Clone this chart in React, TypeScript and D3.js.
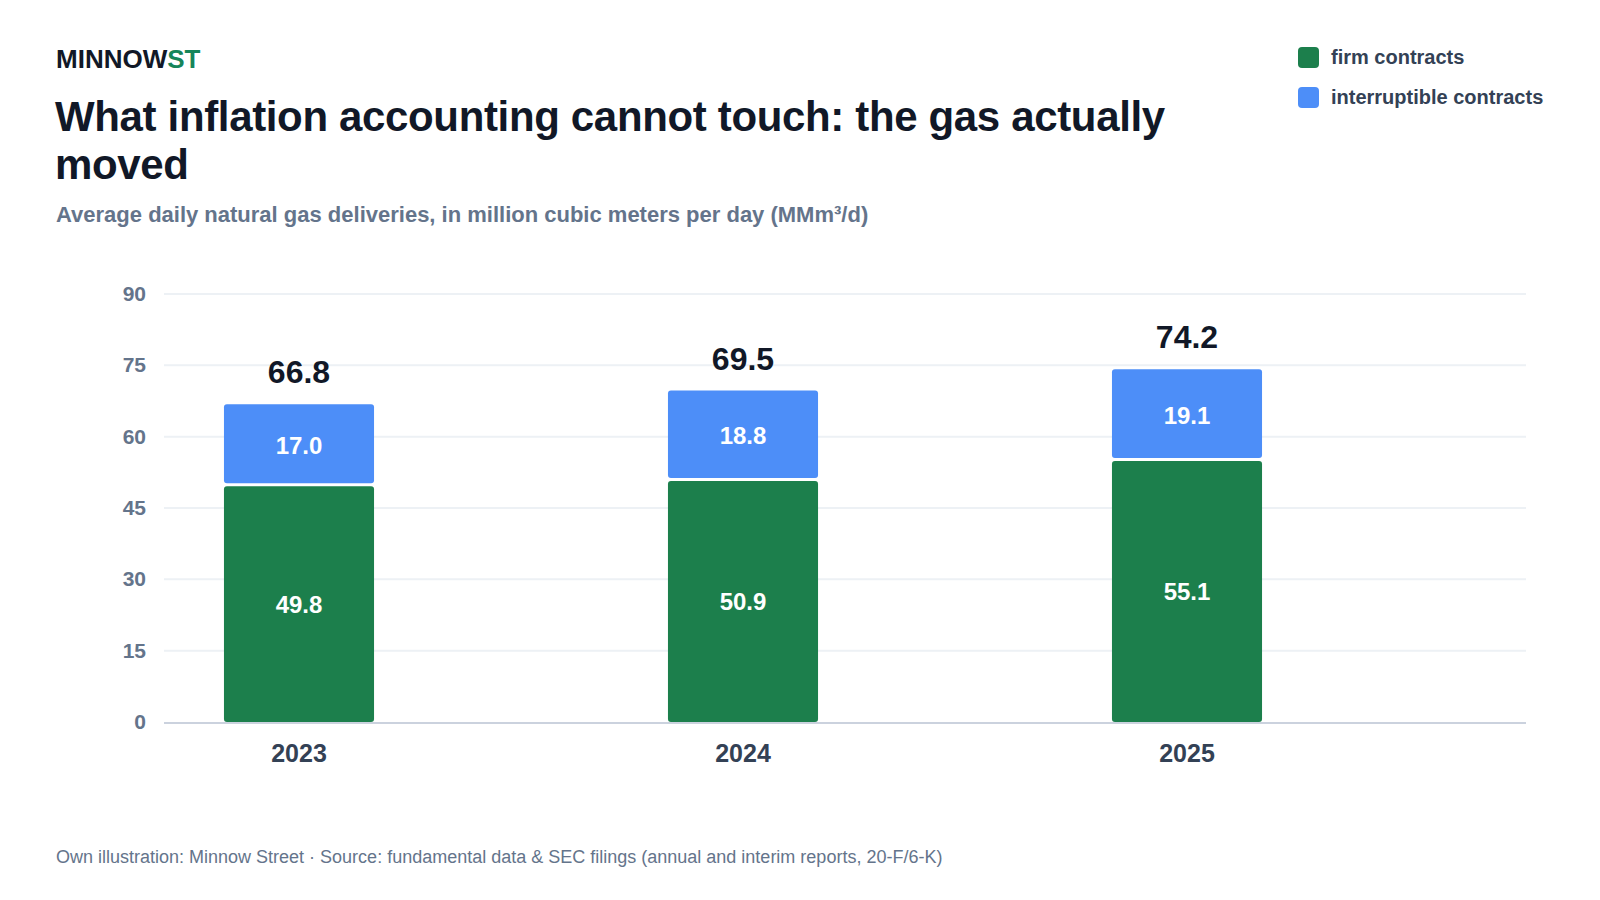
import { useEffect, useRef } from "react"
import * as d3 from "d3"

// Data
const years = ["2023", "2024", "2025"]
const firmValues = [49.8, 50.9, 55.1]
const interruptibleValues = [17.0, 18.8, 19.1]
const totalValues = [66.8, 69.5, 74.2]
const yTicks = [0, 15, 30, 45, 60, 75, 90]
const seriesNames = ["firm contracts", "interruptible contracts"]

const GREEN = "#1c7f4c"
const BLUE = "#4d8ef8"

export default function App() {
  const svgRef = useRef<SVGSVGElement>(null)

  useEffect(() => {
    if (!svgRef.current) return
    const svg = d3.select(svgRef.current)
    svg.selectAll("*").remove()

    const sans = "'Liberation Sans', Arial, sans-serif"

    // Header
    const brand = svg
      .append("text")
      .attr("x", 56)
      .attr("y", 68)
      .attr("font-family", sans)
      .attr("font-weight", 700)
      .attr("font-size", 26)
      .attr("fill", "#111827")
    brand.append("tspan").text("MINNOW")
    brand.append("tspan").attr("fill", "#16855a").text("ST")

    const title = svg
      .append("text")
      .attr("font-family", sans)
      .attr("font-weight", 700)
      .attr("font-size", 42)
      .attr("fill", "#111827")
      .attr("letter-spacing", -0.35)
    title.append("tspan").attr("x", 55).attr("y", 131).text("What inflation accounting cannot touch: the gas actually")
    title.append("tspan").attr("x", 55).attr("y", 179).text("moved")

    svg
      .append("text")
      .attr("x", 56)
      .attr("y", 222)
      .attr("font-family", sans)
      .attr("font-weight", 700)
      .attr("font-size", 22)
      .attr("fill", "#64748b")
      .text("Average daily natural gas deliveries, in million cubic meters per day (MMm³/d)")

    // Legend
    const legend = svg.append("g").attr("transform", "translate(1298,47)")
    seriesNames.forEach((name, i) => {
      const g = legend.append("g").attr("transform", `translate(0,${i * 40})`)
      g.append("rect")
        .attr("width", 21)
        .attr("height", 21)
        .attr("rx", 4)
        .attr("fill", i === 0 ? GREEN : BLUE)
      g.append("text")
        .attr("x", 33)
        .attr("y", 17)
        .attr("font-family", sans)
        .attr("font-weight", 700)
        .attr("font-size", 20)
        .attr("fill", "#334155")
        .text(name)
    })

    // Scales
    const plotLeft = 164
    const plotRight = 1526
    const y = d3.scaleLinear().domain([0, 90]).range([722, 294])
    const x = d3
      .scaleBand<string>()
      .domain(years)
      .range([77, 1409])
      .paddingInner(0.662)
      .paddingOuter(0.331)

    // Gridlines
    svg
      .append("g")
      .selectAll("line")
      .data(yTicks.filter((t) => t > 0))
      .enter()
      .append("line")
      .attr("x1", plotLeft)
      .attr("x2", plotRight)
      .attr("y1", (d) => y(d))
      .attr("y2", (d) => y(d))
      .attr("stroke", "#edf1f5")
      .attr("stroke-width", 2)

    // Y tick labels
    svg
      .append("g")
      .selectAll("text")
      .data(yTicks)
      .enter()
      .append("text")
      .attr("x", 146)
      .attr("y", (d) => y(d) + 7)
      .attr("text-anchor", "end")
      .attr("font-family", sans)
      .attr("font-weight", 700)
      .attr("font-size", 21)
      .attr("fill", "#64748b")
      .text((d) => d)

    const bw = x.bandwidth()

    // Firm segments
    svg
      .append("g")
      .selectAll("rect")
      .data(years)
      .enter()
      .append("rect")
      .attr("x", (d) => x(d)!)
      .attr("y", (_, i) => y(firmValues[i]) + 1)
      .attr("width", bw)
      .attr("height", (_, i) => y(0) - y(firmValues[i]) - 1)
      .attr("rx", 3)
      .attr("fill", GREEN)

    // Interruptible segments
    svg
      .append("g")
      .selectAll("rect")
      .data(years)
      .enter()
      .append("rect")
      .attr("x", (d) => x(d)!)
      .attr("y", (_, i) => y(firmValues[i] + interruptibleValues[i]))
      .attr("width", bw)
      .attr("height", (_, i) => y(firmValues[i]) - y(firmValues[i] + interruptibleValues[i]) - 2)
      .attr("rx", 3)
      .attr("fill", BLUE)

    // Baseline
    svg
      .append("line")
      .attr("x1", plotLeft)
      .attr("x2", plotRight)
      .attr("y1", y(0) + 1)
      .attr("y2", y(0) + 1)
      .attr("stroke", "#cbd2de")
      .attr("stroke-width", 2)

    // Segment labels
    years.forEach((yr, i) => {
      const cx = x(yr)! + bw / 2
      svg
        .append("text")
        .attr("x", cx)
        .attr("y", (y(0) + y(firmValues[i])) / 2 + 9)
        .attr("text-anchor", "middle")
        .attr("font-family", sans)
        .attr("font-weight", 700)
        .attr("font-size", 24)
        .attr("fill", "#ffffff")
        .text(firmValues[i].toFixed(1))
      svg
        .append("text")
        .attr("x", cx)
        .attr("y", (y(firmValues[i]) + y(firmValues[i] + interruptibleValues[i])) / 2 + 9)
        .attr("text-anchor", "middle")
        .attr("font-family", sans)
        .attr("font-weight", 700)
        .attr("font-size", 24)
        .attr("fill", "#ffffff")
        .text(interruptibleValues[i].toFixed(1))
      svg
        .append("text")
        .attr("x", cx)
        .attr("y", y(totalValues[i]) - 21)
        .attr("text-anchor", "middle")
        .attr("font-family", sans)
        .attr("font-weight", 700)
        .attr("font-size", 32)
        .attr("fill", "#111827")
        .text(totalValues[i].toFixed(1))
      svg
        .append("text")
        .attr("x", cx)
        .attr("y", 762)
        .attr("text-anchor", "middle")
        .attr("font-family", sans)
        .attr("font-weight", 700)
        .attr("font-size", 25)
        .attr("fill", "#334155")
        .text(yr)
    })

    // Footer
    svg
      .append("text")
      .attr("x", 56)
      .attr("y", 863)
      .attr("font-family", sans)
      .attr("font-size", 18)
      .attr("fill", "#64748b")
      .text("Own illustration: Minnow Street · Source: fundamental data & SEC filings (annual and interim reports, 20-F/6-K)")
  }, [])

  return (
    <div style={{ position: "absolute", top: 0, left: 0, width: 1600, height: 900, background: "#fff" }}>
      <svg ref={svgRef} width={1600} height={900} />
    </div>
  )
}
